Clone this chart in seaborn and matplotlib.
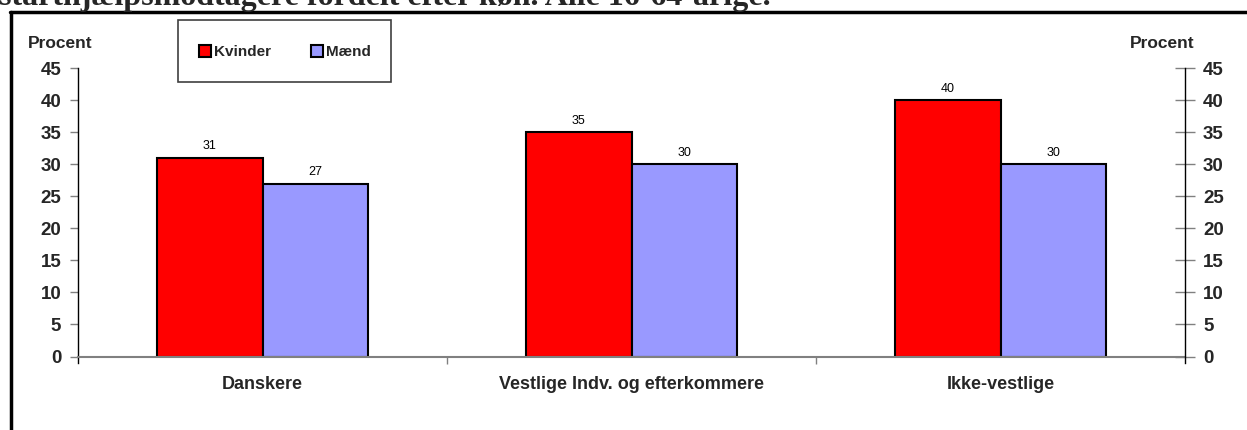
import matplotlib
matplotlib.use("Agg")
import matplotlib.pyplot as plt
import seaborn as sns
import pandas as pd
from matplotlib.patches import Rectangle
from matplotlib.lines import Line2D
from matplotlib.ticker import FixedLocator

# ---- data ----
categories = ["Danskere", "Vestlige Indv. og efterkommere", "Ikke-vestlige"]
kvinder = [31, 35, 40]
maend = [27, 30, 30]
series_names = ["Kvinder", "Mænd"]
yticks = [0, 5, 10, 15, 20, 25, 30, 35, 40, 45]
title_text = "starthjælpsmodtagere fordelt efter køn. Alle 16-64-årige."
ylabel_text = "Procent"

df = pd.DataFrame({
    "kategori": categories * 2,
    "køn": [series_names[0]] * 3 + [series_names[1]] * 3,
    "procent": kvinder + maend,
})

sns.set_theme(style="white")
plt.rcParams["font.family"] = ["Liberation Sans", "DejaVu Sans"]

W, H = 1247, 430
fig = plt.figure(figsize=(W / 100, H / 100), dpi=100)

def fx(px):
    return px / W

def fy(py):
    return 1 - py / H

ax = fig.add_axes([fx(78), fy(356.5), fx(1185) - fx(78), fy(68.3) - fy(356.5)])

palette = {"Kvinder": "#FF0000", "Mænd": "#9999FF"}
sns.barplot(data=df, x="kategori", y="procent", hue="køn", palette=palette,
            width=0.57, gap=0, edgecolor="black", linewidth=1.5,
            saturation=1, ax=ax, errorbar=None)

ax.set_xlim(-0.5, 2.5)
ax.set_ylim(0, 45)
ax.set_yticks(yticks)
ax.set_xlabel("")
ax.set_ylabel("")

for c in ax.containers:
    ax.bar_label(c, fmt="%d", padding=4, fontsize=9, color="black")

# spines
for s in ["top", "right"]:
    ax.spines[s].set_visible(False)
ax.spines["left"].set_color("black")
ax.spines["left"].set_linewidth(1)
ax.spines["left"].set_bounds(-1, 45)
ax.spines["bottom"].set_color("#808080")
ax.spines["bottom"].set_linewidth(1.5)

ax.tick_params(axis="y", which="major", left=True, direction="out", length=6,
               width=1, color="#808080", pad=6, labelsize=13.5)
for t in ax.get_yticklabels():
    t.set_fontweight("bold")
ax.tick_params(axis="x", which="major", bottom=False, pad=8, labelsize=13)
for t in ax.get_xticklabels():
    t.set_fontweight("bold")
ax.xaxis.set_minor_locator(FixedLocator([0.5, 1.5]))
ax.tick_params(axis="x", which="minor", bottom=True, direction="out", length=5,
               width=1, color="#808080")

# right axis
ax2 = ax.twinx()
ax2.set_ylim(0, 45)
ax2.set_yticks(yticks)
for s in ["top", "left", "bottom"]:
    ax2.spines[s].set_visible(False)
ax2.spines["right"].set_color("black")
ax2.spines["right"].set_linewidth(1)
ax2.spines["right"].set_bounds(-1, 45)
ax2.tick_params(axis="y", right=True, direction="inout", length=14, width=1,
                color="#808080", pad=6, labelsize=13.5)
for t in ax2.get_yticklabels():
    t.set_fontweight("bold")
ax2.grid(False)
ax.grid(False)

# legend
sns.move_legend(ax, loc="center", bbox_to_anchor=(fx(285), fy(52)),
                bbox_transform=fig.transFigure, ncol=2, frameon=False,
                title=None, handlelength=0.8, handleheight=0.8,
                handletextpad=0.2, columnspacing=2.6,
                prop={"size": 11, "weight": "bold"})
fig.patches.append(Rectangle((fx(178), fy(82)), fx(391) - fx(178), fy(20) - fy(82),
                             transform=fig.transFigure, fill=False,
                             edgecolor="#404040", linewidth=1.2))

# axis titles
fig.text(fx(60), fy(43), ylabel_text, ha="center", va="center",
         fontsize=12.5, fontweight="bold")
fig.text(fx(1162), fy(43), ylabel_text, ha="center", va="center",
         fontsize=12.5, fontweight="bold")

# clipped title at top (as in the reference)
fig.text(fx(-1), fy(4.5), title_text, ha="left", va="baseline",
         fontsize=23, fontweight="bold",
         family=["Liberation Serif", "DejaVu Serif"])

# outer frame
fig.add_artist(Line2D([fx(10), fx(W + 5)], [fy(11.5), fy(11.5)],
                      transform=fig.transFigure, color="black", linewidth=2.5))
fig.add_artist(Line2D([fx(11), fx(11)], [fy(11.5), fy(H + 5)],
                      transform=fig.transFigure, color="black", linewidth=2.5))

fig.savefig("out.png", dpi=100)
